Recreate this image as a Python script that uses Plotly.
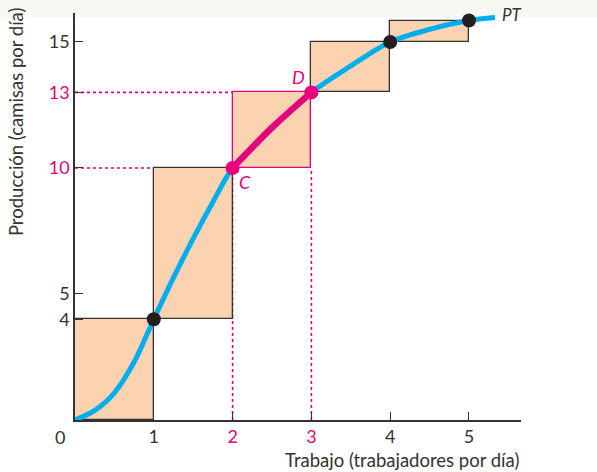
import plotly.graph_objects as go

# Data
labor = [0, 1, 2, 3, 4, 5]
output = [0, 4, 10, 13, 15, 15.85]
curve_x = [0, 0.25, 0.5, 0.75, 1, 1.25, 1.5, 1.75, 2, 2.5, 3, 3.5, 4, 4.5, 5, 5.33]
curve_y = [0, 0.38, 1.08, 2.3, 4, 5.65, 7.2, 8.65, 10, 11.6, 13, 14.05, 15, 15.5, 15.85, 15.97]
seg_x = [2, 2.5, 3]
seg_y = [10, 11.6, 13]
bar_left = [0, 1, 2, 3, 4]
bar_base = [0, 4, 10, 13, 15]
bar_top = [4, 10, 13, 15, 15.85]
x_ticks = [1, 2, 3, 4, 5]
y_ticks = [4, 5, 10, 13, 15]

PINK = "#E6007E"
BLUE = "#00AEEF"
DARK = "#333333"
FILL = "#FBD3B0"
FONT = "Lato"

fig = go.Figure()

# rectangles as bars
fig.add_trace(go.Bar(
    x=[l + 0.5 for l in bar_left],
    y=[t - b for t, b in zip(bar_top, bar_base)],
    base=bar_base, width=1,
    marker=dict(color=FILL,
                line=dict(color=[DARK, DARK, PINK, DARK, DARK], width=1.3)),
    hoverinfo="skip", showlegend=False))

# curve
fig.add_trace(go.Scatter(x=curve_x, y=curve_y, mode="lines",
                         line=dict(color=BLUE, width=5, shape="spline", smoothing=0.9),
                         showlegend=False, hoverinfo="skip"))
fig.add_trace(go.Scatter(x=seg_x, y=seg_y, mode="lines",
                         line=dict(color=PINK, width=6.5, shape="spline", smoothing=0.9),
                         showlegend=False, hoverinfo="skip"))
# points
pt_colors = ["#231F20", PINK, PINK, "#231F20", "#231F20"]
fig.add_trace(go.Scatter(x=labor[1:], y=output[1:], mode="markers",
                         marker=dict(size=14, color=pt_colors),
                         showlegend=False, hoverinfo="skip"))

shapes = []
# dotted guide lines
for yv in [10, 13]:
    shapes.append(dict(type="line", xref="x", yref="y", x0=0, x1=2, y0=yv, y1=yv,
                       line=dict(color=PINK, width=1.6, dash="dot"), layer="below"))
for xv in [2, 3]:
    shapes.append(dict(type="line", xref="x", yref="y", x0=xv, x1=xv, y0=0, y1=10,
                       line=dict(color=PINK, width=1.6, dash="dot"), layer="below"))
# top faint band
shapes.append(dict(type="rect", xref="paper", yref="paper", x0=-0.2, x1=1.2,
                   y0=0.99, y1=1.04, fillcolor="#F8F8F3", line=dict(width=0), layer="below"))

def col(v, pinks):
    return f"<span style='color:{PINK}'>{v}</span>" if v in pinks else str(v)

fig.update_layout(
    width=597, height=472,
    margin=dict(l=75, r=76, t=13, b=52, autoexpand=False),
    plot_bgcolor="white", paper_bgcolor="white",
    font=dict(family=FONT, size=17, color=DARK),
    shapes=shapes,
    bargap=0,
    xaxis=dict(range=[0, 5.66], showgrid=False, zeroline=False, automargin=False,
               showline=True, linecolor=DARK, linewidth=1.5,
               ticks="inside", ticklen=8, tickcolor=DARK, tickwidth=1.3,
               tickvals=x_ticks, ticktext=[col(v, [2, 3]) for v in x_ticks],
               tickfont=dict(family=FONT, size=18, color=DARK)),
    yaxis=dict(range=[0, 16.15], showgrid=False, zeroline=False, automargin=False,
               showline=True, linecolor=DARK, linewidth=1.5,
               ticks="inside", ticklen=8, tickcolor=DARK, tickwidth=1.3,
               tickvals=y_ticks, ticktext=[col(v, [10, 13]) for v in y_ticks],
               tickfont=dict(family=FONT, size=18, color=DARK)),
    annotations=[
        dict(x=0, y=0, xref="x", yref="y", text="0", showarrow=False,
             xshift=-15, yshift=-17, font=dict(size=18, color=DARK)),
        dict(x=2, y=10, xref="x", yref="y", text="<i>C</i>", showarrow=False,
             xshift=12, yshift=-14, font=dict(size=18, color=PINK)),
        dict(x=3, y=13, xref="x", yref="y", text="<i>D</i>", showarrow=False,
             xshift=-13, yshift=15, font=dict(size=18, color=PINK)),
        dict(x=5.33, y=15.97, xref="x", yref="y", text="<i>PT</i>", showarrow=False,
             xanchor="left", xshift=5, yshift=3, font=dict(size=17, color=DARK)),
        dict(x=0, y=0.732, xref="paper", yref="paper", xanchor="center", yanchor="middle",
             text="Producción (camisas por día)", textangle=-90, showarrow=False,
             xshift=-59, font=dict(size=18.5, color=DARK)),
        dict(x=1.0, y=0, xref="paper", yref="paper", xanchor="right", yanchor="middle",
             text="Trabajo (trabajadores por día)", showarrow=False,
             yshift=-40, font=dict(size=18.5, color=DARK)),
    ],
)

fig.write_html("out.html", config={"displayModeBar": False},
               post_script="document.body.style.margin='0';document.body.style.padding='0';")
